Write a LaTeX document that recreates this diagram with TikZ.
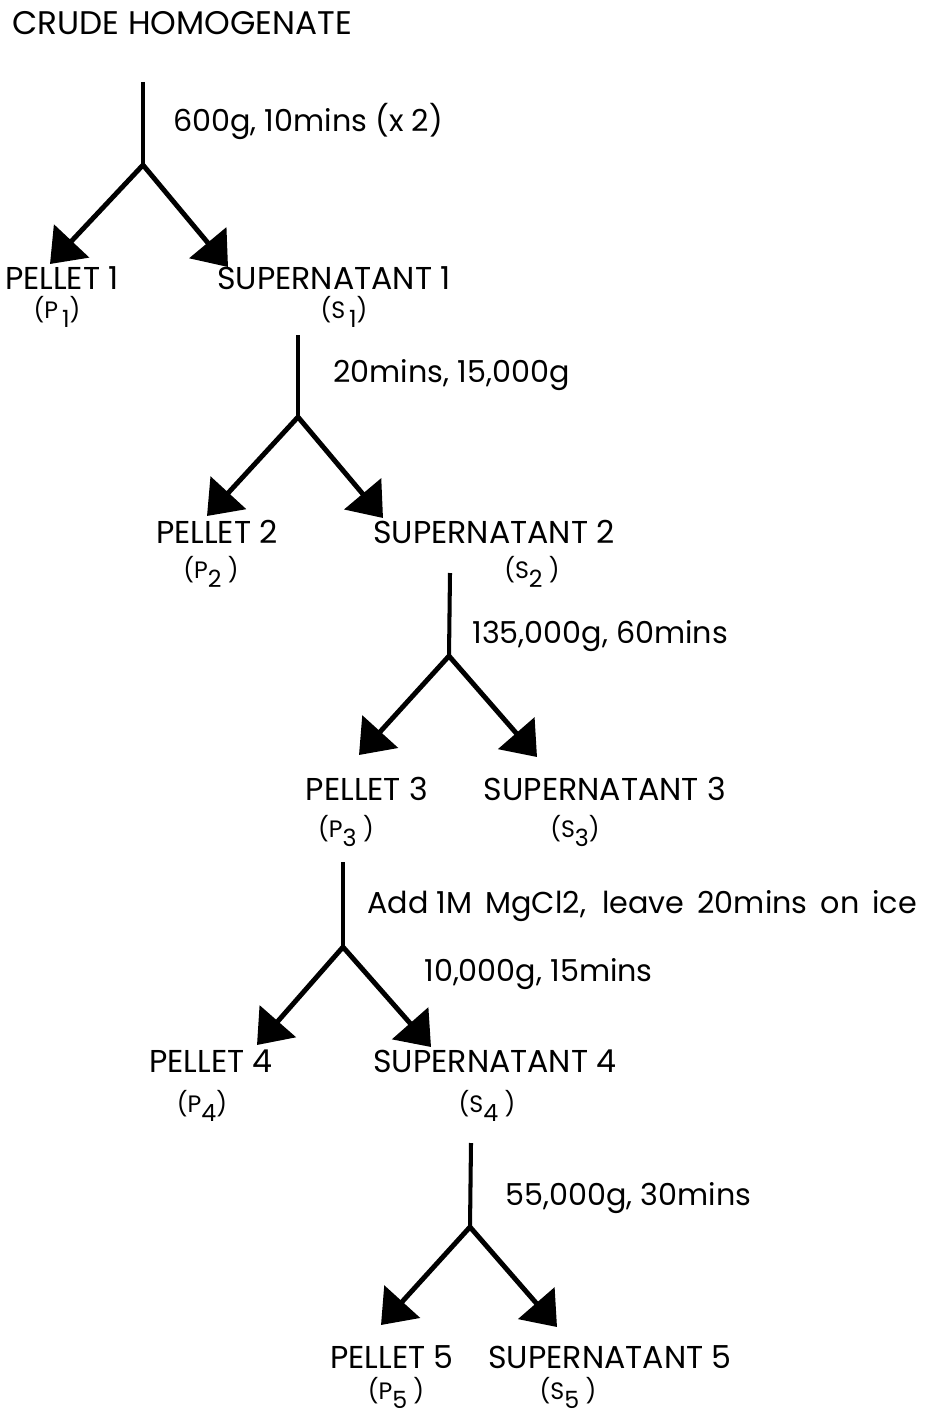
\documentclass[tikz,border=0pt]{standalone}
\usepackage{fontspec}
\setmainfont{Poppins}
\usepackage{tikz}
\usetikzlibrary{arrows.meta}
\newcommand{\idx}[1]{\raisebox{-5.5pt}{#1}}

\begin{document}
\begin{tikzpicture}[
    x=0.02cm, y=-0.02cm,
    lab/.style={anchor=base, inner sep=0pt, font=\fontsize{18}{21}\selectfont},
    cond/.style={anchor=base west, inner sep=0pt, font=\fontsize{17.2}{20}\selectfont},
    sub/.style={anchor=base, inner sep=0pt, font=\fontsize{13.5}{15}\selectfont},
    stem/.style={line width=2.3pt},
    branch/.style={line width=2.8pt, -{Triangle[length=18pt, width=27pt]}},
]
    \useasboundingbox (0,0) rectangle (933,1416);

    % Start
    \node[cond, font=\fontsize{18.6}{21}\selectfont] (crude) at (12,35) {CRUDE HOMOGENATE};

    % Spin 1
    \coordinate (top1) at (143,82);
    \coordinate (fork1) at (143,165);
    \coordinate (ptip1) at (50,264);
    \coordinate (stip1) at (228,267);
    \node[cond] (spin1) at (173,132) {600g, 10mins (x 2)};
    \node[lab] (pel1) at (62,289) {PELLET 1};
    \node[lab] (sup1) at (334,289) {SUPERNATANT 1};
    \node[sub] (p1) at (57,318) {(P\,\idx{1})};
    \node[sub] (s1) at (344,318) {(S\,\idx{1})};

    % Spin 2
    \coordinate (top2) at (298,335);
    \coordinate (fork2) at (298,417);
    \coordinate (ptip2) at (207,516);
    \coordinate (stip2) at (383,518);
    \node[cond] (spin2) at (333,382) {20mins, 15,000g};
    \node[lab] (pel2) at (217,543) {PELLET 2};
    \node[lab] (sup2) at (494,543) {SUPERNATANT 2};
    \node[sub] (p2) at (211,578) {(P\idx{2}\ )};
    \node[sub] (s2) at (532,578) {(S\idx{2}\ )};

    % Spin 3
    \coordinate (top3) at (450,573);
    \coordinate (fork3) at (449,656);
    \coordinate (ptip3) at (359,755);
    \coordinate (stip3) at (537,757);
    \node[cond] (spin3) at (472,643) {135,000g, 60mins};
    \node[lab] (pel3) at (367,800) {PELLET 3};
    \node[lab] (sup3) at (605,800) {SUPERNATANT 3};
    \node[sub] (p3) at (346,837) {(P\idx{3}\ )};
    \node[sub] (s3) at (575,837) {(S\idx{3})};

    % Spin 4
    \coordinate (top4) at (343,862);
    \coordinate (fork4) at (343,947);
    \coordinate (ptip4) at (257,1045);
    \coordinate (stip4) at (431,1047);
    \node[cond] (salt4) at (367,913) {Add 1M\, MgCl2,\ \ leave\, 20mins\, on\, ice};
    \node[cond] (spin4) at (424,981) {10,000g, 15mins};
    \node[lab] (pel4) at (211,1072) {PELLET 4};
    \node[lab] (sup4) at (495,1072) {SUPERNATANT 4};
    \node[sub] (p4) at (202,1112) {(P\idx{4})};
    \node[sub] (s4) at (487,1112) {(S\idx{4}\ )};

    % Spin 5
    \coordinate (top5) at (471,1143);
    \coordinate (fork5) at (470,1227);
    \coordinate (ptip5) at (381,1325);
    \coordinate (stip5) at (557,1327);
    \node[cond] (spin5) at (505,1205) {55,000g, 30mins};
    \node[lab] (pel5) at (392,1368) {PELLET 5};
    \node[lab] (sup5) at (610,1368) {SUPERNATANT 5};
    \node[sub] (p5) at (396,1399) {(P\idx{5}\ )};
    \node[sub] (s5) at (568,1399) {(S\idx{5}\ )};

    % Lines
    \draw[stem] (top1) -- (fork1);
    \draw[branch] (fork1) -- (ptip1);
    \draw[branch] (fork1) -- (stip1);
    \draw[stem] (top2) -- (fork2);
    \draw[branch] (fork2) -- (ptip2);
    \draw[branch] (fork2) -- (stip2);
    \draw[stem] (top3) -- (fork3);
    \draw[branch] (fork3) -- (ptip3);
    \draw[branch] (fork3) -- (stip3);
    \draw[stem] (top4) -- (fork4);
    \draw[branch] (fork4) -- (ptip4);
    \draw[branch] (fork4) -- (stip4);
    \draw[stem] (top5) -- (fork5);
    \draw[branch] (fork5) -- (ptip5);
    \draw[branch] (fork5) -- (stip5);
\end{tikzpicture}
\end{document}
